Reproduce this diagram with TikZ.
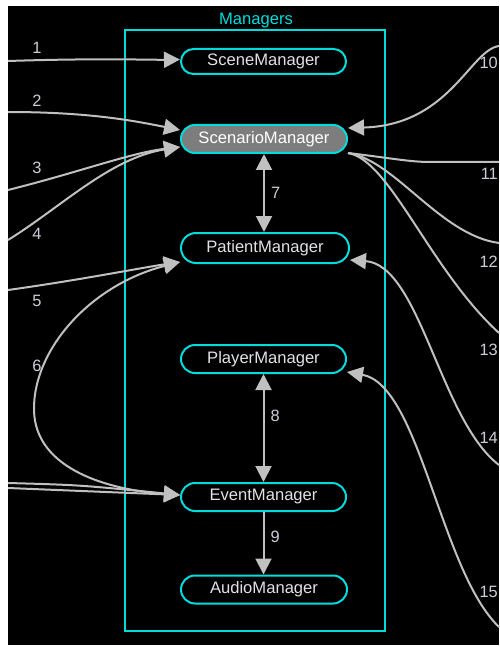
\documentclass[tikz,border=0pt]{standalone}
\usepackage{fontspec}
\setmainfont{Liberation Sans}
\usetikzlibrary{shapes.misc,arrows.meta,calc}
\definecolor{cy}{RGB}{0,220,220}
\definecolor{edgegray}{RGB}{192,192,192}
\definecolor{txt}{RGB}{225,225,230}
\definecolor{lbl}{RGB}{205,205,215}
\definecolor{fillgray}{RGB}{125,125,125}
\begin{document}
\begin{tikzpicture}[x=1pt,y=-1pt,
  mgr/.style={draw=cy, line width=2pt, rounded rectangle, fill=black, text=txt,
    inner sep=0pt, minimum width=165pt, minimum height=28pt,
    font=\fontsize{16.6}{18}\selectfont},
  edgeline/.style={draw=edgegray, line width=2pt},
  headend/.style={-{Triangle[length=16pt,width=16pt]}},
  headboth/.style={{Triangle[length=16pt,width=16pt]}-{Triangle[length=16pt,width=16pt]}},
  lblnode/.style={text=lbl, inner sep=0pt, font=\fontsize{16.4}{18}\selectfont}
]
\useasboundingbox (0,0) rectangle (499,647);
\fill[white] (0,0) rectangle (499,647);
\fill[black] (8,6) rectangle (499,645);

% container
\node[draw=cy, line width=2pt, minimum width=260pt, minimum height=601pt, inner sep=0pt] (box) at (255,330.5) {};
\node[text=cy, inner sep=0pt, font=\fontsize{16.6}{18}\selectfont] (title) at (256,21) {Managers};

% managers
\node[mgr, minimum height=25pt] (scene) at (263.5,61.5) {SceneManager};
\node[mgr, minimum width=166pt, fill=fillgray, text=white] (scenario) at (264,139) {ScenarioManager};
\node[mgr, minimum width=168pt, minimum height=30pt] (patient) at (265,248) {PatientManager};
\node[mgr] (player) at (263.5,359) {PlayerManager};
\node[mgr] (event) at (263.5,497) {EventManager};
\node[mgr, minimum width=166pt] (audio) at (264,589.5) {AudioManager};

% free ends
\coordinate (l1) at (8,61);
\coordinate (l2) at (8,112);
\coordinate (l3) at (8,190);
\coordinate (l4) at (8,240);
\coordinate (l5) at (8,290);
\coordinate (le1) at (8,483);
\coordinate (le2) at (8,488);
\coordinate (r10) at (499,46);
\coordinate (r11) at (499,162);
\coordinate (r12) at (499,243);
\coordinate (r13) at (499,333);
\coordinate (r14) at (499,465);
\coordinate (r15) at (499,627);

% left connectors
\draw[edgeline, headend] (l1) .. controls (100,58) and (150,60) .. ([yshift=2pt]scene.west);
\draw[edgeline, headend] (l2) .. controls (90,112) and (135,121) .. ([yshift=9pt]scenario.west);
\draw[edgeline, headend] (l3) .. controls (80,172) and (130,153) .. ([yshift=-8pt]scenario.west);
\draw[edgeline, headend] (l4) .. controls (60,208) and (110,158) .. ([yshift=-8pt]scenario.west);
\draw[edgeline, headend] (l5) .. controls (80,280) and (140,268) .. ([yshift=-14pt]patient.west);
\draw[edgeline, headboth] ([yshift=2pt]event.west) .. controls (110,490) and (35,470) .. (34,410)
   .. controls (33,350) and (90,285) .. ([yshift=-14pt]patient.west);
\draw[edgeline, headend] (le1) .. controls (80,485) .. ([yshift=2pt]event.west);
\draw[edgeline, headend] (le2) -- ([yshift=2pt]event.west);

% internal connectors
\draw[edgeline, headboth] (scenario.south) -- (scenario.south |- patient.north)
  node[lblnode, pos=0.5, anchor=west, xshift=6pt] (n7) {7};
\draw[edgeline, headboth] (player.south) -- (event.north)
  node[lblnode, pos=0.39, anchor=west, xshift=6pt] (n8) {8};
\draw[edgeline, headend] (event.south) -- (event.south |- audio.north)
  node[lblnode, pos=0.4, anchor=west, xshift=6pt] (n9) {9};

% right connectors
\draw[edgeline, headend] (r10) .. controls (470,50) and (450,125) .. ([yshift=11pt]scenario.east);
\draw[edgeline] ([yshift=-14pt]scenario.east) .. controls (390,158) and (410,162) .. (430,162) -- (r11);
\draw[edgeline] ([yshift=-14pt]scenario.east) .. controls (395,160) and (440,235) .. (r12);
\draw[edgeline] ([yshift=-14pt]scenario.east) .. controls (390,160) and (430,270) .. (r13);
\draw[edgeline, headend] (r14) .. controls (440,420) and (420,265) .. ([yshift=-12pt]patient.east);
\draw[edgeline, headend] (r15) .. controls (440,570) and (420,385) .. ([yshift=-13pt]player.east);

% edge labels
\node[lblnode] (n1) at (37,48) {1};
\node[lblnode] (n2) at (37,101) {2};
\node[lblnode] (n3) at (37,168) {3};
\node[lblnode] (n4) at (37,234) {4};
\node[lblnode] (n5) at (37,301) {5};
\node[lblnode] (n6) at (37,366) {6};
\node[lblnode, anchor=east] (n10) at (498,63) {10};
\node[lblnode, anchor=east] (n11) at (498,174) {11};
\node[lblnode, anchor=east] (n12) at (498,262) {12};
\node[lblnode, anchor=east] (n13) at (498,350) {13};
\node[lblnode, anchor=east] (n14) at (498,438) {14};
\node[lblnode, anchor=east] (n15) at (498,592) {15};
\end{tikzpicture}
\end{document}
